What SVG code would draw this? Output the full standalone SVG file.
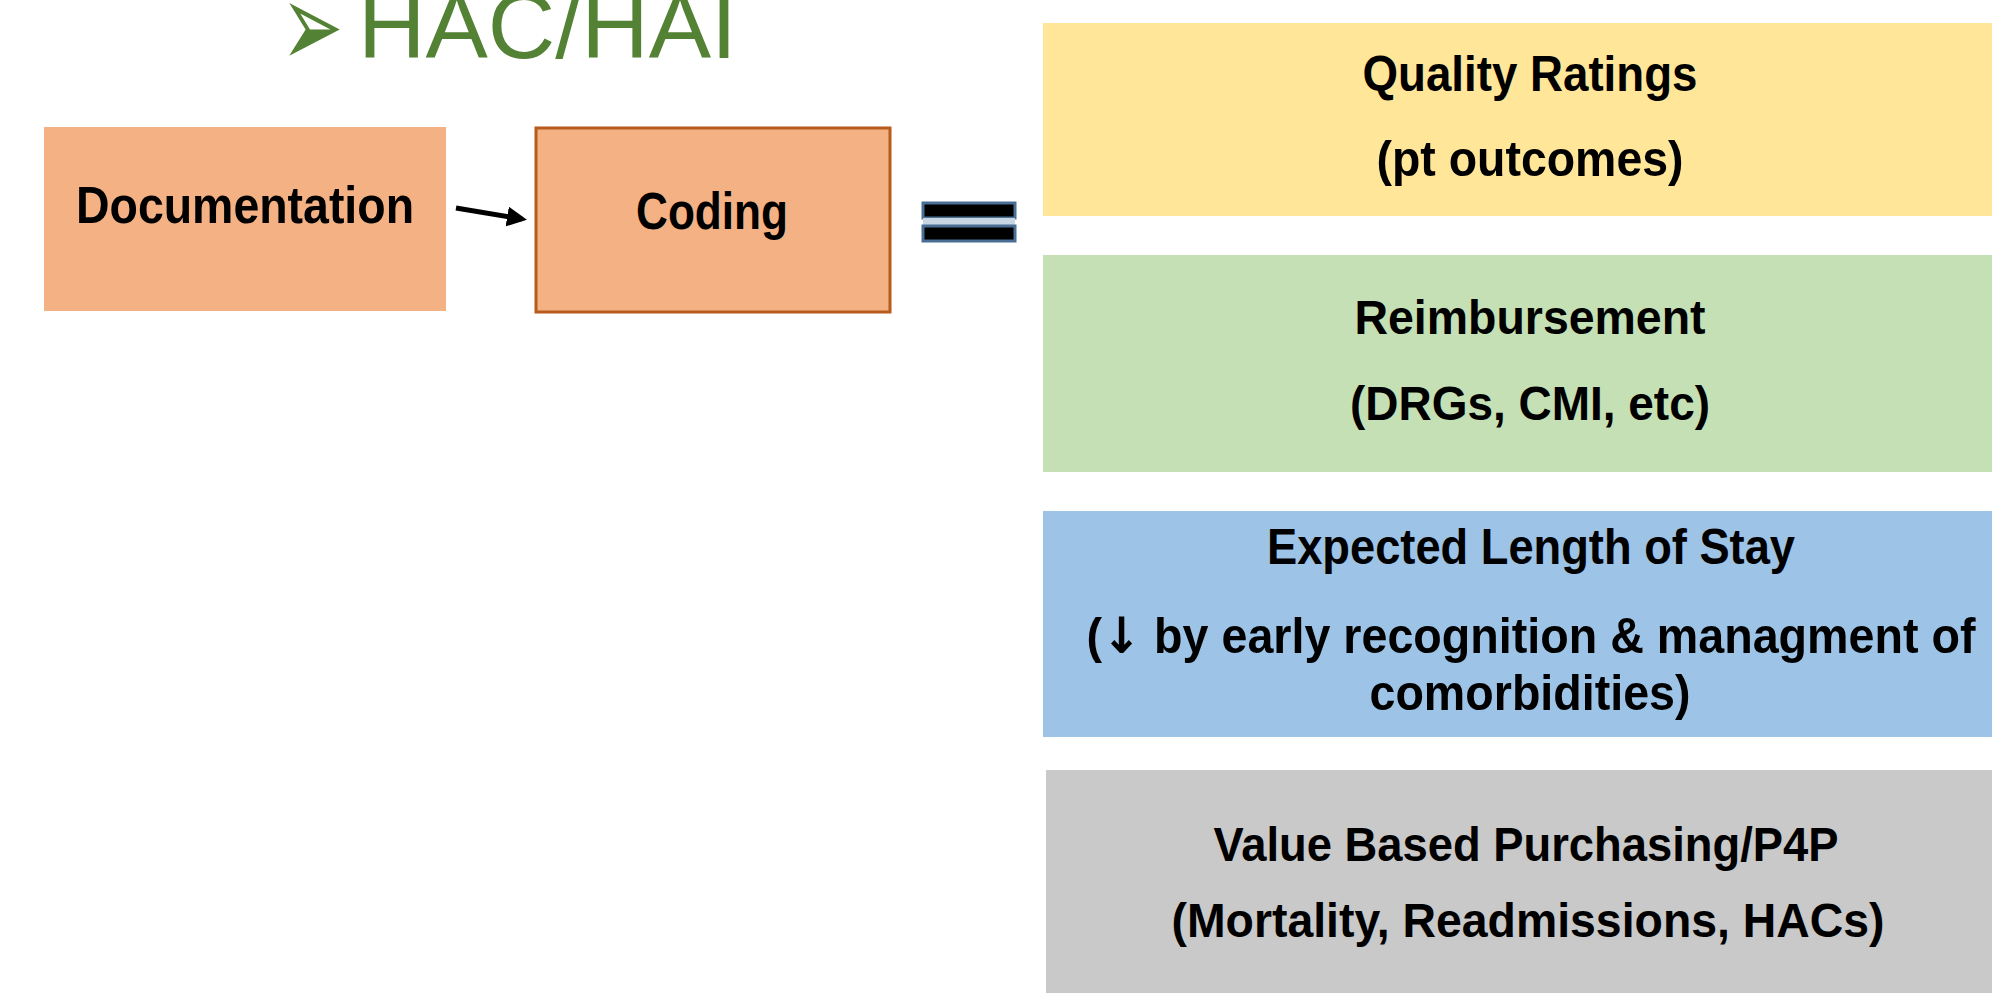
<svg xmlns="http://www.w3.org/2000/svg" width="1992" height="993" viewBox="0 0 1992 993">
<defs>
<style>
.lbl{font-family:"Liberation Sans",Arial,sans-serif;font-weight:bold;fill:#000;text-anchor:middle}
.t{font-family:"Liberation Sans",Arial,sans-serif;fill:#548235}
</style>
<marker id="ah" markerWidth="4" markerHeight="4" refX="3" refY="2" orient="auto" markerUnits="strokeWidth">
<path d="M0,0 L4,2 L0,4 Z" fill="#000"/>
</marker>
</defs>
<rect width="1992" height="993" fill="#fff"/>
<g id="title">
<text transform="translate(281,67) scale(0.62,1)" x="0" y="0" font-family="DejaVu Sans,sans-serif" font-size="120" fill="#548235">➢</text>
<text class="t" x="358" y="58" font-size="93" textLength="379" lengthAdjust="spacingAndGlyphs">HAC/HAI</text>
</g>
<g id="documentation">
<rect x="44" y="127" width="402" height="184" fill="#f4b183"/>
<text class="lbl" x="245" y="223" font-size="52" textLength="338" lengthAdjust="spacingAndGlyphs">Documentation</text>
</g>
<g id="coding">
<rect x="536" y="128" width="354" height="184" fill="#f4b183" stroke="#b85c1e" stroke-width="3"/>
<text class="lbl" x="712" y="229" font-size="52" textLength="152" lengthAdjust="spacingAndGlyphs">Coding</text>
</g>
<g id="connectors">
<line x1="456" y1="208" x2="522" y2="219" stroke="#000" stroke-width="5" marker-end="url(#ah)"/>
</g>
<g id="equals">
<rect x="923" y="203" width="92" height="15" fill="#000" stroke="#4a6f94" stroke-width="3"/>
<rect x="923" y="218" width="92" height="8" fill="#c8d5e3"/>
<rect x="923" y="226" width="92" height="15" fill="#000" stroke="#4a6f94" stroke-width="3"/>
</g>
<g id="quality">
<rect x="1043" y="23" width="949" height="193" fill="#ffe699"/>
<text class="lbl" x="1530" y="91" font-size="50" textLength="335" lengthAdjust="spacingAndGlyphs">Quality Ratings</text>
<text class="lbl" x="1530" y="176" font-size="50" textLength="307" lengthAdjust="spacingAndGlyphs">(pt outcomes)</text>
</g>
<g id="reimbursement">
<rect x="1043" y="255" width="949" height="217" fill="#c5e0b4"/>
<text class="lbl" x="1530" y="334" font-size="48" textLength="351" lengthAdjust="spacingAndGlyphs">Reimbursement</text>
<text class="lbl" x="1530" y="420" font-size="48" textLength="360" lengthAdjust="spacingAndGlyphs">(DRGs, CMI, etc)</text>
</g>
<g id="los">
<rect x="1043" y="511" width="949" height="226" fill="#9dc3e6"/>
<text class="lbl" x="1531" y="564" font-size="50" textLength="528" lengthAdjust="spacingAndGlyphs">Expected Length of Stay</text>
<text class="lbl" x="1531" y="653" font-size="50" textLength="889" lengthAdjust="spacingAndGlyphs">(<tspan font-family="DejaVu Sans,sans-serif">↓</tspan> by early recognition &amp; managment of</text>
<text class="lbl" x="1530" y="710" font-size="50" textLength="321" lengthAdjust="spacingAndGlyphs">comorbidities)</text>
</g>
<g id="vbp">
<rect x="1046" y="770" width="946" height="223" fill="#c9c9c9"/>
<text class="lbl" x="1526" y="861" font-size="48" textLength="625" lengthAdjust="spacingAndGlyphs">Value Based Purchasing/P4P</text>
<text class="lbl" x="1528" y="937" font-size="48" textLength="713" lengthAdjust="spacingAndGlyphs">(Mortality, Readmissions, HACs)</text>
</g>
</svg>
